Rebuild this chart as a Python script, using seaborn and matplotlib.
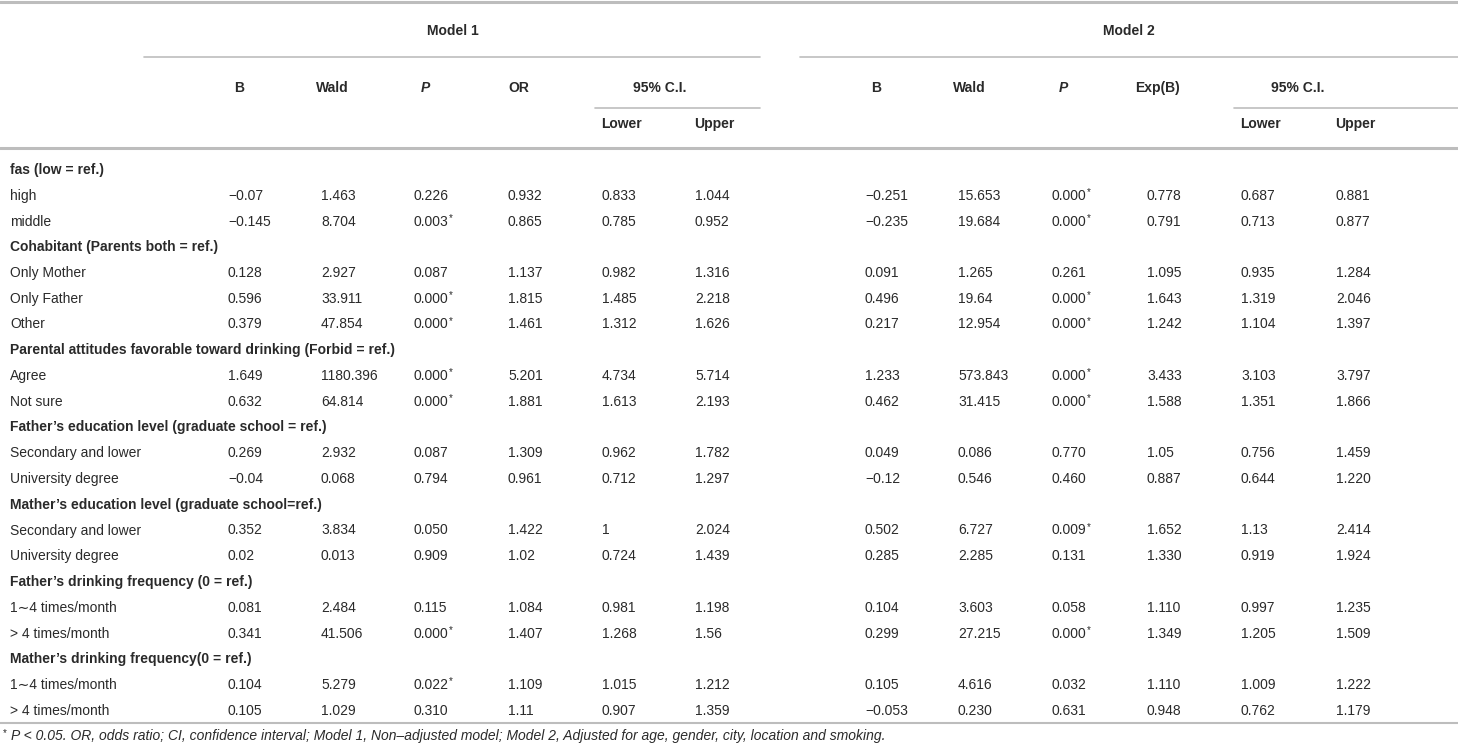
import matplotlib
matplotlib.use("Agg")
import matplotlib.pyplot as plt
import seaborn as sns

# table content
groups = ["fas (low = ref.)",
          "Cohabitant (Parents both = ref.)",
          "Parental attitudes favorable toward drinking (Forbid = ref.)",
          "Father’s education level (graduate school = ref.)",
          "Mather’s education level (graduate school=ref.)",
          "Father’s drinking frequency (0 = ref.)",
          "Mather’s drinking frequency(0 = ref.)"]
levels = [["high", "middle"],
          ["Only Mother", "Only Father", "Other"],
          ["Agree", "Not sure"],
          ["Secondary and lower", "University degree"],
          ["Secondary and lower", "University degree"],
          ["1∼4 times/month", "> 4 times/month"],
          ["1∼4 times/month", "> 4 times/month"]]

m1_B = ["−0.07", "−0.145", "0.128", "0.596", "0.379", "1.649", "0.632", "0.269", "−0.04", "0.352", "0.02", "0.081", "0.341", "0.104", "0.105"]
m1_wald = ["1.463", "8.704", "2.927", "33.911", "47.854", "1180.396", "64.814", "2.932", "0.068", "3.834", "0.013", "2.484", "41.506", "5.279", "1.029"]
m1_p = ["0.226", "0.003*", "0.087", "0.000*", "0.000*", "0.000*", "0.000*", "0.087", "0.794", "0.050", "0.909", "0.115", "0.000*", "0.022*", "0.310"]
m1_or = ["0.932", "0.865", "1.137", "1.815", "1.461", "5.201", "1.881", "1.309", "0.961", "1.422", "1.02", "1.084", "1.407", "1.109", "1.11"]
m1_lower = ["0.833", "0.785", "0.982", "1.485", "1.312", "4.734", "1.613", "0.962", "0.712", "1", "0.724", "0.981", "1.268", "1.015", "0.907"]
m1_upper = ["1.044", "0.952", "1.316", "2.218", "1.626", "5.714", "2.193", "1.782", "1.297", "2.024", "1.439", "1.198", "1.56", "1.212", "1.359"]

m2_B = ["−0.251", "−0.235", "0.091", "0.496", "0.217", "1.233", "0.462", "0.049", "−0.12", "0.502", "0.285", "0.104", "0.299", "0.105", "−0.053"]
m2_wald = ["15.653", "19.684", "1.265", "19.64", "12.954", "573.843", "31.415", "0.086", "0.546", "6.727", "2.285", "3.603", "27.215", "4.616", "0.230"]
m2_p = ["0.000*", "0.000*", "0.261", "0.000*", "0.000*", "0.000*", "0.000*", "0.770", "0.460", "0.009*", "0.131", "0.058", "0.000*", "0.032", "0.631"]
m2_exp = ["0.778", "0.791", "1.095", "1.643", "1.242", "3.433", "1.588", "1.05", "0.887", "1.652", "1.330", "1.110", "1.349", "1.110", "0.948"]
m2_lower = ["0.687", "0.713", "0.935", "1.319", "1.104", "3.103", "1.351", "0.756", "0.644", "1.13", "0.919", "0.997", "1.205", "1.009", "0.762"]
m2_upper = ["0.881", "0.877", "1.284", "2.046", "1.397", "3.797", "1.866", "1.459", "1.220", "2.414", "1.924", "1.235", "1.509", "1.222", "1.179"]

headers_m1 = ["B", "Wald", "P", "OR"]
headers_m2 = ["B", "Wald", "P", "Exp(B)"]
footnote = ("P < 0.05. OR, odds ratio; CI, confidence interval; Model 1, Non–adjusted model; "
            "Model 2, Adjusted for age, gender, city, location and smoking.")

sns.set_theme(style="white")
plt.rcParams["font.family"] = ["Liberation Sans", "DejaVu Sans"]

TXT = "#2a2a2a"
RULE = "#bdbdbd"
FS = 10

W, H = 1458, 743
fig = plt.figure(figsize=(W / 100, H / 100), dpi=100)
ax = fig.add_axes([0, 0, 1, 1])
ax.set_xlim(0, W)
ax.set_ylim(H, 0)
ax.axis("off")

# column left edges for values
cols = [228, 321, 414, 508, 602, 695, 865, 958, 1052, 1147, 1241, 1336]
columns = [m1_B, m1_wald, m1_p, m1_or, m1_lower, m1_upper,
           m2_B, m2_wald, m2_p, m2_exp, m2_lower, m2_upper]

# rules
ax.plot([0, W], [2, 2], color=RULE, lw=2.2)
ax.plot([144, 760], [57, 57], color=RULE, lw=1.2)
ax.plot([800, W], [57, 57], color=RULE, lw=1.2)
ax.plot([595, 760], [108, 108], color=RULE, lw=1.2)
ax.plot([1234, W], [108, 108], color=RULE, lw=1.2)
ax.plot([0, W], [148, 148], color=RULE, lw=2.2)
ax.plot([0, W], [723, 723], color=RULE, lw=1.5)

# header
ax.text(453, 31, "Model 1", ha="center", va="center", fontsize=FS, fontweight="bold", color=TXT)
ax.text(1129, 31, "Model 2", ha="center", va="center", fontsize=FS, fontweight="bold", color=TXT)
for i, h in enumerate(headers_m1 + headers_m2):
    c = cols[i] if i < 4 else cols[i + 2]
    style = "italic" if h == "P" else "normal"
    ax.text(c + 11, 88, h, ha="center", va="center", fontsize=FS, fontweight="bold",
            fontstyle=style, color=TXT)
for lo, hi, mid in [(602, 695, 660), (1241, 1336, 1298)]:
    ax.text(mid, 88, "95% C.I.", ha="center", va="center", fontsize=FS, fontweight="bold", color=TXT)
    ax.text(lo - 1, 124, "Lower", ha="left", va="center", fontsize=FS, fontweight="bold", color=TXT)
    ax.text(hi - 1, 124, "Upper", ha="left", va="center", fontsize=FS, fontweight="bold", color=TXT)

# body
y0, dy = 170, 25.75
r = 0
k = 0
for g, lv in zip(groups, levels):
    y = y0 + r * dy
    ax.text(10, y, g, ha="left", va="center", fontsize=FS, fontweight="bold", color=TXT)
    r += 1
    for name in lv:
        y = y0 + r * dy
        ax.text(10, y, name, ha="left", va="center", fontsize=FS, color=TXT)
        for x, col in zip(cols, columns):
            v = col[k]
            star = v.endswith("*")
            t = ax.text(x, y, v.rstrip("*"), ha="left", va="center", fontsize=FS, color=TXT)
            if star:
                ax.annotate("*", xy=(1.0, 0.75), xycoords=t, ha="left", va="center",
                            fontsize=FS - 3, color=TXT)
        r += 1
        k += 1

ax.text(3, 733, "*", ha="left", va="center", fontsize=FS - 3, color=TXT)
ax.text(11, 736, footnote, ha="left", va="center", fontsize=FS, fontstyle="italic", color=TXT)

fig.savefig("out.png", dpi=100)
